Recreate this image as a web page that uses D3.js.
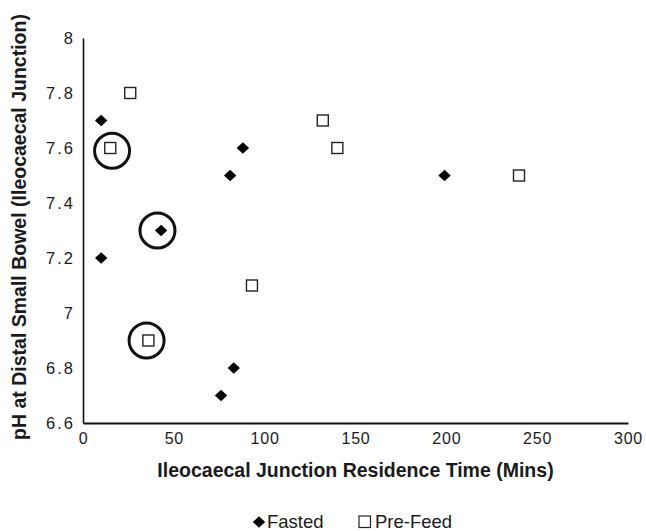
<!DOCTYPE html>
<html>
<head>
<meta charset="utf-8">
<script src="https://cdn.jsdelivr.net/npm/d3@7"></script>
<style>
  body { margin: 0; background: #fff; }
  text { font-family: Arial, "Liberation Sans", sans-serif; fill: #1a1a1a; }
</style>
</head>
<body>
<div id="chart"></div>
<script>
// values
var fastedTime = [10, 10, 43, 81, 88, 199, 76, 83];
var fastedPH   = [7.7, 7.2, 7.3, 7.5, 7.6, 7.5, 6.7, 6.8];
var preFeedTime = [26, 15, 132, 140, 240, 93, 36];
var preFeedPH   = [7.8, 7.6, 7.7, 7.6, 7.5, 7.1, 6.9];
// the three ringed points
var ringTime = [16, 41, 35];
var ringPH   = [7.59, 7.3, 6.9];
var xTicks = [0, 50, 100, 150, 200, 250, 300];
var yTicks = [6.6, 6.8, 7, 7.2, 7.4, 7.6, 7.8, 8];
var seriesNames = ["Fasted", "Pre-Feed"];

var width = 646, height = 531;
var svg = d3.select("#chart").append("svg")
    .attr("width", width)
    .attr("height", height);

var x = d3.scaleLinear().domain([0, 300]).range([83, 628]);
var y = d3.scaleLinear().domain([6.6, 8]).range([423, 38]);

var diamond = "M0,-5.8L6.2,0L0,5.8L-6.2,0Z";

// axes (no tick marks, just labels)
var xAxis = svg.append("g")
    .attr("transform", "translate(0," + y(6.6) + ")")
    .call(d3.axisBottom(x).tickValues(xTicks).tickSize(0).tickPadding(10).tickFormat(d3.format("d")));
xAxis.select(".domain").attr("stroke", "#111").attr("stroke-width", 2.2);
xAxis.selectAll("text")
    .attr("font-size", 16).attr("font-family", null).attr("fill", "#1a1a1a")
    .attr("letter-spacing", 0.8);

var yAxis = svg.append("g")
    .attr("transform", "translate(" + x(0) + ",0)")
    .call(d3.axisLeft(y).tickValues(yTicks).tickSize(0).tickPadding(8).tickFormat(function(d){ return String(+d.toFixed(1)); }));
yAxis.select(".domain").attr("stroke", "#111").attr("stroke-width", 1.6);
yAxis.selectAll("text")
    .attr("font-size", 16.5).attr("font-family", null).attr("fill", "#1a1a1a")
    .attr("letter-spacing", 2);

// axis titles
svg.append("text")
    .attr("x", (x(0) + x(300)) / 2)
    .attr("y", 477)
    .attr("text-anchor", "middle")
    .attr("font-size", 19.5).attr("font-weight", "bold")
    .text("Ileocaecal Junction Residence Time (Mins)");

svg.append("text")
    .attr("transform", "translate(26," + 227 + ") rotate(-90)")
    .attr("text-anchor", "middle")
    .attr("font-size", 19.5).attr("font-weight", "bold")
    .text("pH at Distal Small Bowel (Ileocaecal Junction)");

// points
svg.append("g").selectAll("path")
    .data(d3.range(fastedTime.length))
    .enter().append("path")
    .attr("d", diamond)
    .attr("transform", function(i){ return "translate(" + x(fastedTime[i]) + "," + y(fastedPH[i]) + ")"; })
    .attr("fill", "#000");

svg.append("g").selectAll("rect")
    .data(d3.range(preFeedTime.length))
    .enter().append("rect")
    .attr("x", function(i){ return x(preFeedTime[i]) - 5.5; })
    .attr("y", function(i){ return y(preFeedPH[i]) - 5.5; })
    .attr("width", 11).attr("height", 11)
    .attr("fill", "#fff").attr("stroke", "#222").attr("stroke-width", 1.4);

// rings
svg.append("g").selectAll("circle")
    .data(d3.range(ringTime.length))
    .enter().append("circle")
    .attr("cx", function(i){ return x(ringTime[i]); })
    .attr("cy", function(i){ return y(ringPH[i]); })
    .attr("r", 17.5)
    .attr("fill", "none").attr("stroke", "#111").attr("stroke-width", 3);

// legend
var lg = svg.append("g");
lg.append("path").attr("d", diamond).attr("transform", "translate(259,522)").attr("fill", "#000");
lg.append("text").attr("x", 267).attr("y", 527.5).attr("font-size", 18.5).text(seriesNames[0]);
lg.append("rect").attr("x", 359).attr("y", 516).attr("width", 11.5).attr("height", 11.5)
    .attr("fill", "#fff").attr("stroke", "#222").attr("stroke-width", 1.2);
lg.append("text").attr("x", 375).attr("y", 527.5).attr("font-size", 18.5).text(seriesNames[1]);
</script>
</body>
</html>
